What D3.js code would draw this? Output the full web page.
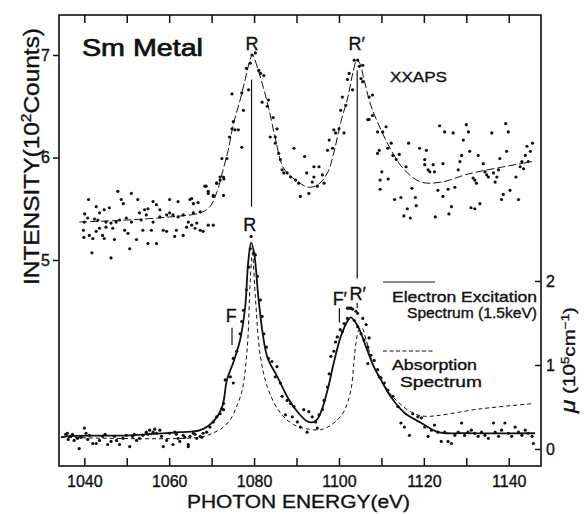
<!DOCTYPE html>
<html>
<head>
<meta charset="utf-8">
<script src="https://cdn.jsdelivr.net/npm/d3@7"></script>
<style>
  body { margin: 0; background: #fff; }
  svg text { font-family: "Liberation Sans", Arial, sans-serif; fill: #111; stroke: #111; stroke-width: 0.35px; }
</style>
</head>
<body>
<svg id="chart" width="584" height="514"></svg>
<script>
// ---- data ----
const xTicks = [1040, 1050, 1060, 1070, 1080, 1090, 1100, 1110, 1120, 1130, 1140]
const xLabels = [1040, 1060, 1080, 1100, 1120, 1140]
const countTicks = [5, 6, 7]   // 10^2 counts
const muTicks = [0, 1, 2]      // 10^5 cm^-1

// XXAPS data points [eV, 10^2 counts]
const xapsDots = [
  [1041.0,5.59],[1042.8,5.52],[1043.6,5.46],[1044.7,5.49],[1045.9,5.51],[1047.9,5.67],[1048.7,5.59],[1049.2,5.55],
  [1051.1,5.65],[1052.6,5.59],[1054.2,5.49],[1055.0,5.50],[1056.2,5.57],[1057.0,5.54],[1057.8,5.49],[1060.1,5.59],
  [1062.1,5.57],[1064.9,5.59],[1065.7,5.55],[1066.8,5.56],[1068.4,5.72],[1069.2,5.65],[1070.4,5.63],[1071.2,5.75],
  [1072.0,5.78],[1072.8,5.81],[1040.0,5.37],[1040.8,5.41],[1042.4,5.40],[1043.2,5.39],[1045.1,5.37],[1046.3,5.36],
  [1047.5,5.37],[1048.3,5.39],[1049.9,5.41],[1051.1,5.37],[1053.0,5.46],[1053.4,5.39],[1054.6,5.44],[1056.2,5.37],
  [1057.8,5.42],[1059.4,5.44],[1060.1,5.46],[1060.9,5.44],[1062.1,5.42],[1063.3,5.44],[1064.5,5.37],[1065.7,5.46],
  [1067.3,5.47],[1070.4,5.62],[1072.8,5.63],[1039.8,5.29],[1041.2,5.24],[1042.0,5.21],[1042.8,5.28],[1044.3,5.24],
  [1044.7,5.21],[1046.7,5.31],[1047.1,5.20],[1049.5,5.29],[1050.3,5.26],[1050.7,5.11],[1052.3,5.20],[1053.8,5.29],
  [1055.0,5.16],[1055.8,5.29],[1057.0,5.16],[1058.6,5.29],[1059.4,5.28],[1061.7,5.29],[1061.3,5.23],[1063.3,5.24],
  [1064.1,5.32],[1065.3,5.34],[1066.1,5.31],[1066.5,5.36],[1067.3,5.29],[1068.0,5.28],[1069.2,5.34],[1070.4,5.34],
  [1041.8,5.07],[1046.3,5.02],[1043.6,5.31],[1045.1,5.32],[1039.9,5.22],[1040.1,5.45],
  [1065.3,5.60],[1068.7,5.72],[1069.2,5.67],[1071.2,5.75],[1072.0,5.81],[1072.9,5.79],[1072.4,5.99],[1073.6,5.99],
  [1074.2,6.20],[1074.8,6.28],[1075.1,6.35],[1075.5,6.27],[1076.3,6.27],[1074.8,6.62],[1077.1,6.63],[1077.5,6.46],
  [1077.1,6.10],[1078.7,6.66],[1078.2,6.87],[1079.1,6.92],[1079.5,7.00],[1080.3,7.02],[1081.1,6.85],[1081.5,6.82],
  [1082.3,6.80],[1081.9,6.54],[1083.4,6.56],[1083.1,6.50],[1084.5,6.39],[1085.4,6.28],[1083.8,6.20],[1085.0,6.20],
  [1085.0,6.14],[1085.8,6.04],[1086.2,5.98],[1086.6,5.88],[1087.0,5.85],[1087.8,5.85],[1088.6,5.81],[1089.4,6.09],
  [1089.8,5.78],[1090.5,5.75],[1090.9,5.62],[1091.9,6.01],[1092.9,5.65],[1092.4,5.85],[1093.7,5.76],[1094.1,5.91],
  [1095.3,5.91],[1094.1,5.81],[1094.9,5.72],[1096.1,5.83],[1096.5,5.75],[1097.3,6.07],[1097.7,6.17],[1098.5,6.09],
  [1098.8,6.27],[1099.2,6.24],[1100.0,6.28],[1100.4,6.46],[1100.8,6.59],[1101.2,6.24],[1101.6,6.51],[1102.0,6.76],
  [1102.4,6.82],[1103.2,6.66],[1103.6,6.95],[1104.4,6.95],[1104.8,6.89],[1105.6,6.90],[1105.2,6.77],[1105.6,6.74],
  [1107.1,6.59],[1107.9,6.61],[1107.1,6.37],[1109.5,6.07],[1109.7,5.78],
  [1106.8,6.37],[1107.9,6.41],[1109.1,6.25],[1110.3,6.25],[1111.1,6.30],[1112.3,6.14],[1111.5,6.09],[1109.1,6.04],
  [1112.7,6.02],[1114.2,6.03],[1113.5,5.98],[1110.1,5.86],[1111.6,5.79],[1109.7,5.69],[1113.1,5.59],[1114.6,5.61],
  [1115.8,5.91],[1116.4,6.14],[1117.2,5.70],[1118.0,5.61],[1118.2,5.53],[1116.1,5.50],[1115.3,5.43],[1116.8,5.41],
  [1119.0,6.09],[1120.2,5.98],[1120.6,6.07],[1120.2,5.93],[1121.0,5.88],[1121.4,5.86],[1122.2,5.93],[1122.5,5.86],
  [1124.5,5.94],[1123.7,6.31],[1124.9,6.25],[1126.9,6.24],[1123.3,5.68],[1124.5,5.62],[1122.7,5.42],[1125.7,5.69],
  [1126.5,5.52],[1125.9,5.45],[1127.3,5.71],[1128.1,5.88],[1128.5,5.96],[1128.9,6.02],[1129.3,6.17],[1130.0,6.32],
  [1130.5,6.25],[1130.8,6.06],[1132.0,5.78],[1132.4,5.75],[1131.6,5.80],[1132.8,6.02],[1133.2,5.55],[1132.0,5.50],
  [1131.1,5.51],[1134.0,5.94],[1134.4,5.86],[1134.8,5.83],[1135.2,5.81],[1136.0,6.24],[1136.4,5.85],[1136.8,5.76],
  [1137.2,5.81],[1137.6,5.88],[1137.9,5.99],[1138.3,5.59],[1138.7,5.64],[1139.5,6.06],[1139.3,6.33],[1139.9,6.25],
  [1140.3,5.68],[1141.7,5.81],[1142.3,5.59],[1142.7,5.91],[1143.1,5.96],[1143.5,5.89],[1143.9,6.02],[1144.3,6.11],
  [1145.1,6.06],[1145.6,6.14],[1144.6,5.96]
]

// XXAPS fitted curve [eV, 10^2 counts]
const xapsFit = [
  [1038.8,5.37],[1050.0,5.39],[1060.1,5.42],[1067.3,5.46],[1069.6,5.52],[1071.3,5.67],[1072.7,5.88],[1073.9,6.07],
  [1075.1,6.32],[1076.7,6.56],[1077.9,6.76],[1078.9,6.93],[1079.6,7.00],[1081.0,6.85],[1082.2,6.68],[1083.4,6.49],
  [1085.0,6.19],[1086.9,5.90],[1089.8,5.78],[1092.8,5.71],[1095.2,5.74],[1097.3,5.85],[1098.8,6.05],[1100.4,6.34],
  [1102.1,6.59],[1103.3,6.83],[1104.2,6.95],[1104.9,6.92],[1105.9,6.76],[1107.5,6.51],[1109.9,6.27],[1112.3,6.07],
  [1115.4,5.88],[1119.4,5.76],[1124.1,5.76],[1130.5,5.84],[1137.6,5.90],[1145.5,5.96]
]

// electron excitation spectrum, data points [eV, arb. counts]
const eesDots = [
  [1036.0,3.31],[1036.8,3.28],[1037.6,3.24],[1038.4,3.26],[1038.8,3.16],[1040.0,3.36],[1040.4,3.31],[1041.2,3.29],
  [1042.0,3.21],[1042.8,3.21],[1043.6,3.24],[1044.3,3.28],[1045.5,3.20],[1046.3,3.23],[1047.1,3.28],[1048.3,3.20],
  [1049.1,3.26],[1049.9,3.29],[1050.7,3.18],[1051.4,3.28],[1052.3,3.24],[1053.0,3.26],[1053.8,3.29],[1054.6,3.32],
  [1055.4,3.34],[1056.2,3.32],[1057.0,3.31],[1057.8,3.34],[1058.6,3.18],[1059.4,3.24],[1060.1,3.31],[1060.9,3.20],
  [1061.3,3.32],[1062.1,3.26],[1062.5,3.23],[1063.3,3.29],[1064.5,3.20],[1064.9,3.28],[1065.7,3.31],[1066.5,3.26],
  [1067.3,3.28],[1068.0,3.31],[1068.8,3.32],[1069.6,3.37],[1070.4,3.42],[1071.2,3.47],[1072.0,3.50],[1072.4,3.55],
  [1072.8,3.60],[1035.6,3.30],[1036.2,3.25],[1037.2,3.30],[1039.2,3.27],[1040.8,3.25],[1044.9,3.30],[1047.6,3.24],
  [1051.8,3.30],[1055.0,3.30],[1056.6,3.35],[1058.2,3.28],[1061.7,3.30],[1063.7,3.27],[1066.1,3.30],[1067.7,3.27],
  [1064.5,3.18],[1072.8,3.54],[1073.2,3.83],[1074.4,3.86],[1075.1,3.80],[1075.1,4.04],[1075.9,4.11],[1076.7,4.28],
  [1077.1,4.40],[1077.5,4.51],[1078.2,4.71],[1078.7,4.93],[1079.1,5.11],[1079.3,5.23],[1079.9,5.07],[1080.3,5.05],
  [1080.8,4.84],[1081.5,4.61],[1081.9,4.45],[1082.3,4.28],[1082.9,4.15],[1083.4,4.04],[1084.2,4.01],[1085.4,3.96],
  [1085.0,3.86],[1086.2,3.80],[1086.6,3.67],[1087.8,3.63],[1088.6,3.60],[1089.4,3.57],[1087.4,3.49],[1089.0,3.47],
  [1090.2,3.42],[1090.9,3.37],[1091.7,3.54],[1092.9,3.52],[1092.5,3.32],[1093.7,3.47],[1094.5,3.42],[1094.9,3.36],
  [1095.3,3.49],[1096.1,3.54],[1096.5,3.63],[1097.3,3.76],[1097.7,3.89],[1098.1,4.06],[1098.8,4.11],[1099.2,4.20],
  [1099.6,4.25],[1100.3,4.32],[1100.8,4.30],[1101.2,4.38],[1102.0,4.43],[1102.4,4.53],[1103.2,4.52],[1104.0,4.50],
  [1103.6,4.41],[1104.4,4.35],[1105.2,4.28],[1105.6,4.43],[1105.9,4.22],[1106.4,4.37],[1106.8,4.15],[1107.1,4.24],
  [1107.5,4.07],[1108.3,4.02],[1106.8,3.99],[1109.1,3.93],[1109.5,3.86],[1102.8,4.53],[1102.0,4.53],[1104.4,4.48],
  [1109.9,3.85],[1110.7,3.80],[1111.5,3.73],[1112.7,3.67],[1113.9,3.57],[1114.6,3.41],[1115.4,3.37],[1116.6,3.29],
  [1117.4,3.50],[1118.6,3.47],[1119.4,3.46],[1120.2,3.37],[1121.0,3.28],[1121.8,3.34],[1122.5,3.39],[1123.3,3.32],
  [1124.1,3.23],[1124.9,3.32],[1125.7,3.23],[1126.5,3.21],[1127.3,3.29],[1128.1,3.32],[1128.9,3.41],[1129.6,3.29],
  [1130.4,3.32],[1131.2,3.34],[1132.0,3.31],[1132.8,3.28],[1133.6,3.32],[1134.4,3.29],[1135.2,3.26],[1136.4,3.41],
  [1136.8,3.32],[1137.6,3.28],[1138.3,3.34],[1139.1,3.41],[1139.9,3.31],[1140.7,3.28],[1141.5,3.37],[1142.3,3.32],
  [1143.1,3.29],[1143.9,3.34],[1144.6,3.31],[1145.5,3.28],[1145.8,3.21]
]

// electron excitation spectrum, smooth line [eV, arb. counts]
const eesLine = [
  [1034.5,3.27],[1035.7,3.28],[1050.7,3.29],[1062.5,3.32],[1067.3,3.34],[1070.3,3.42],[1072.5,3.57],[1073.6,3.83],
  [1075.1,4.00],[1076.7,4.22],[1077.9,4.54],[1078.6,4.97],[1079.3,5.17],[1080.0,5.07],[1081.0,4.64],[1081.9,4.32],
  [1082.7,4.12],[1083.4,4.02],[1085.5,3.86],[1087.9,3.66],[1090.2,3.52],[1092.8,3.42],[1094.5,3.43],[1095.7,3.51],
  [1097.3,3.73],[1098.8,4.00],[1100.4,4.25],[1102.1,4.41],[1102.8,4.44],[1104.5,4.35],[1106.4,4.15],[1108.2,3.96],
  [1109.9,3.83],[1112.3,3.66],[1115.4,3.51],[1119.4,3.41],[1123.4,3.32],[1129.6,3.31],[1146.2,3.31]
]

// absorption spectrum [eV, mu in 10^5 cm^-1]
const absLine = [
  [1034.5,0.14],[1067.3,0.14],[1070.3,0.19],[1072.5,0.25],[1074.4,0.35],[1076.0,0.52],[1077.2,0.70],[1078.4,1.21],
  [1079.1,2.01],[1079.6,2.33],[1080.3,1.81],[1081.5,1.10],[1083.4,0.70],[1086.2,0.43],[1089.3,0.29],[1092.6,0.24],
  [1095.7,0.23],[1098.8,0.31],[1101.1,0.44],[1102.8,0.70],[1103.5,1.02],[1104.0,1.26],[1104.7,1.42],[1105.4,1.44],
  [1106.4,1.30],[1108.2,0.98],[1110.6,0.76],[1113.5,0.58],[1117.0,0.44],[1120.1,0.39],[1133.6,0.48],[1145.5,0.54]
]

// peak markers: [eV, top, bottom] in 10^2 counts
const peakLines = [[1079.4, 6.76, 5.52], [1104.3, 6.85, 4.82]]
const peakLabels = [
  { t: 'R', e: 1079.5, v: 7.05 }, { t: 'R\u2032', e: 1104.2, v: 7.05 },
  { t: 'R', e: 1079.0, v: 5.28 }, { t: 'R\u2032', e: 1104.4, v: 4.61 },
  { t: 'F', e: 1074.6, v: 4.40 }, { t: 'F\u2032', e: 1100.2, v: 4.56 }
]
const featureTicks = [[1074.8, 4.34, 4.17], [1100.1, 4.53, 4.39], [1104.3, 4.58, 4.53]]

// ---- drawing ----
const svg = d3.select('#chart')
const frameL = 59, frameR = 541, frameT = 15, frameB = 466

const x = d3.scaleLinear().domain([1034.04, 1147.6]).range([frameL, frameR])
const yC = d3.scaleLinear().domain([5, 7]).range([260, 55])
const yM = d3.scaleLinear().domain([0, 2]).range([449, 281])

svg.append('rect')
  .attr('x', frameL).attr('y', frameT)
  .attr('width', frameR - frameL).attr('height', frameB - frameT)
  .attr('fill', 'none').attr('stroke', '#111').attr('stroke-width', 1.6)

const styleAxis = g => {
  g.select('.domain').remove()
  g.selectAll('line').attr('stroke', '#111').attr('stroke-width', 1.5)
  g.selectAll('text').attr('font-size', 16).attr('fill', '#111')
    .attr('font-family', '"Liberation Sans", Arial, sans-serif')
}

svg.append('g').attr('transform', `translate(0,${frameB})`)
  .call(d3.axisBottom(x).tickValues(xTicks).tickSize(-8).tickPadding(10)
    .tickFormat(d => xLabels.includes(d) ? d : ''))
  .call(styleAxis)

svg.append('g').attr('transform', `translate(0,${frameT})`)
  .call(d3.axisTop(x).tickValues(xTicks).tickSize(-8).tickFormat(''))
  .call(styleAxis)

svg.append('g').attr('transform', `translate(${frameL},0)`)
  .call(d3.axisLeft(yC).tickValues(countTicks).tickSize(6).tickPadding(3).tickFormat(d3.format('d')))
  .call(styleAxis)

svg.append('g').attr('transform', `translate(${frameR},0)`)
  .call(d3.axisRight(yM).tickValues(muTicks).tickSize(-6).tickPadding(5).tickFormat(d3.format('d')))
  .call(styleAxis)

// curves
const lineC = d3.line().x(d => x(d[0])).y(d => yC(d[1])).curve(d3.curveCatmullRom.alpha(0.5))
const lineM = d3.line().x(d => x(d[0])).y(d => yM(d[1])).curve(d3.curveCatmullRom.alpha(0.5))

svg.append('path').datum(absLine).attr('d', lineM)
  .attr('fill', 'none').attr('stroke', '#111').attr('stroke-width', 1).attr('stroke-dasharray', '4,3')

svg.append('path').datum(eesLine).attr('d', lineC)
  .attr('fill', 'none').attr('stroke', '#111').attr('stroke-width', 1.8)

svg.append('path').datum(xapsFit).attr('d', lineC)
  .attr('fill', 'none').attr('stroke', '#111').attr('stroke-width', 1).attr('stroke-dasharray', '8,3')

// dots
svg.append('g').selectAll('circle').data(xapsDots.concat(eesDots)).enter()
  .append('circle')
    .attr('cx', d => x(d[0])).attr('cy', d => yC(d[1])).attr('r', 1.6).attr('fill', '#111')

// peak lines and labels
svg.append('g').selectAll('line').data(peakLines.concat(featureTicks)).enter()
  .append('line')
    .attr('x1', d => x(d[0])).attr('x2', d => x(d[0]))
    .attr('y1', d => yC(d[1])).attr('y2', d => yC(d[2]))
    .attr('stroke', '#111').attr('stroke-width', 1.2)

svg.append('g').selectAll('text').data(peakLabels).enter()
  .append('text')
    .attr('x', d => x(d.e)).attr('y', d => yC(d.v))
    .attr('text-anchor', 'middle').attr('font-size', 18)
    .text(d => d.t)

// titles
svg.append('text').attr('x', 82).attr('y', 56).attr('font-size', 23)
  .attr('textLength', 121).attr('lengthAdjust', 'spacingAndGlyphs')
  .style('stroke-width', '0.7px')
  .text('Sm Metal')

svg.append('text').attr('x', 390).attr('y', 82).attr('font-size', 15)
  .attr('textLength', 57).attr('lengthAdjust', 'spacingAndGlyphs')
  .text('XXAPS')

svg.append('text').attr('x', 187).attr('y', 508).attr('font-size', 18.5)
  .attr('textLength', 223).attr('lengthAdjust', 'spacingAndGlyphs')
  .text('PHOTON ENERGY(eV)')

const yTitle = svg.append('text').attr('transform', 'translate(39,285) rotate(-90)')
  .attr('font-size', 22).attr('textLength', 257).attr('lengthAdjust', 'spacingAndGlyphs')
yTitle.append('tspan').text('INTENSITY(10')
yTitle.append('tspan').attr('dy', -8).attr('font-size', 14).text('2')
yTitle.append('tspan').attr('dy', 8).text('Counts)')

const muTitle = svg.append('text').attr('transform', 'translate(575,413) rotate(-90)')
  .attr('font-size', 17).attr('textLength', 106).attr('lengthAdjust', 'spacingAndGlyphs')
muTitle.append('tspan').attr('font-style', 'italic').attr('font-size', 20).text('\u03bc')
muTitle.append('tspan').text(' (10')
muTitle.append('tspan').attr('dy', -6).attr('font-size', 11).text('5')
muTitle.append('tspan').attr('dy', 6).text('cm')
muTitle.append('tspan').attr('dy', -6).attr('font-size', 11).text('\u22121')
muTitle.append('tspan').attr('dy', 6).text(')')

// legend
svg.append('line').attr('x1', 383).attr('x2', 435).attr('y1', 282).attr('y2', 282)
  .attr('stroke', '#111').attr('stroke-width', 1.2)
svg.append('line').attr('x1', 383).attr('x2', 435).attr('y1', 351).attr('y2', 351)
  .attr('stroke', '#111').attr('stroke-width', 1.2).attr('stroke-dasharray', '4,2.5')

const legendText = [
  { t: 'Electron Excitation', x: 392, y: 302, w: 145 },
  { t: 'Spectrum (1.5keV)', x: 407, y: 318, w: 130 },
  { t: 'Absorption', x: 392, y: 370, w: 85 },
  { t: 'Spectrum', x: 400, y: 387, w: 82 }
]
svg.append('g').selectAll('text').data(legendText).enter()
  .append('text')
    .attr('x', d => d.x).attr('y', d => d.y).attr('font-size', 15)
    .attr('textLength', d => d.w).attr('lengthAdjust', 'spacingAndGlyphs')
    .text(d => d.t)
</script>
</body>
</html>
